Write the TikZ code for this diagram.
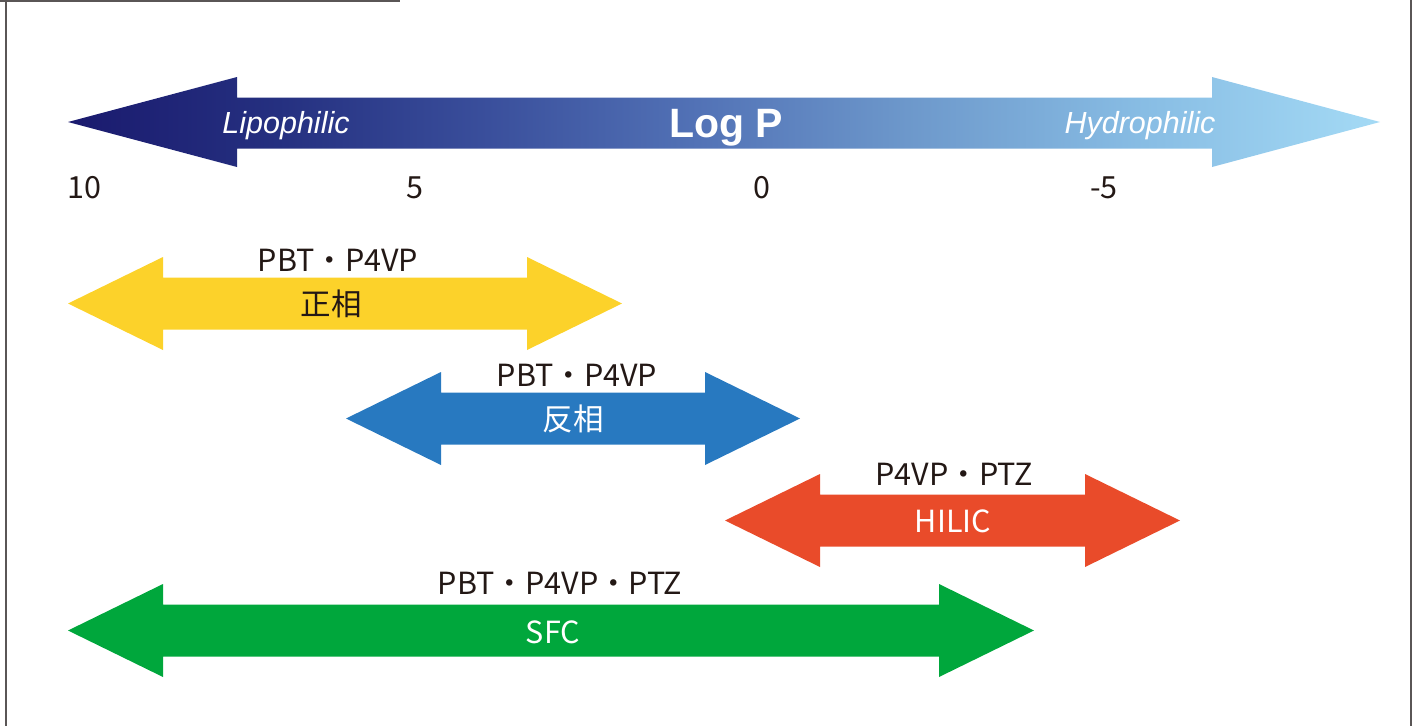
\documentclass[tikz,border=0pt]{standalone}
\usepackage{fontspec}
\newfontfamily\jpfont{Noto Sans CJK JP}
\newfontfamily\arialfont{Liberation Sans}
\definecolor{ink}{HTML}{231815}
\definecolor{frame}{HTML}{5A5656}
\definecolor{ncYellow}{HTML}{FCD22A}
\definecolor{ncBlue}{HTML}{2879C0}
\definecolor{ncRed}{HTML}{E94B2A}
\definecolor{ncGreen}{HTML}{00A73C}
\definecolor{lp0}{HTML}{1A1A6E}
\definecolor{lp1}{HTML}{253080}
\definecolor{lp2}{HTML}{3A4F9C}
\definecolor{lp3}{HTML}{5272B6}
\definecolor{lp4}{HTML}{6D98CB}
\definecolor{lp5}{HTML}{88BDE4}
\definecolor{lp6}{HTML}{A4DAF5}
% horizontal gradient for the Log P axis (path box maps to 25bp..75bp)
\pgfdeclarehorizontalshading{logpshade}{100bp}{%
  color(0bp)=(lp0); color(25bp)=(lp0); color(33bp)=(lp1); color(41bp)=(lp2);
  color(49bp)=(lp3); color(57bp)=(lp4); color(66bp)=(lp5); color(75bp)=(lp6);
  color(100bp)=(lp6)}
\tikzset{
  lbl/.style={font=\jpfont\fontsize{30.5}{30.5}\selectfont, text=ink, anchor=base, inner sep=0pt},
  inlbl/.style={lbl, text=white},
  tick/.style={lbl},
  axislbl/.style={font=\arialfont\itshape\fontsize{30.5}{30.5}\selectfont, text=white, anchor=base, inner sep=0pt},
  axistitle/.style={font=\arialfont\bfseries\fontsize{41}{41}\selectfont, text=white, anchor=base, inner sep=0pt},
  frameline/.style={draw=frame, line width=1.4pt}
}
% double-headed block arrow: #1 colour, #2 left tip x, #3 right tip x, #4 centre y
\newcommand\blockarrow[4]{%
  \fill[#1] (#2,#4) -- ({#2+95},{#4-46.5}) -- ({#2+95},{#4-26}) -- ({#3-95},{#4-26})
    -- ({#3-95},{#4-46.5}) -- (#3,#4) -- ({#3-95},{#4+46.5}) -- ({#3-95},{#4+26})
    -- ({#2+95},{#4+26}) -- ({#2+95},{#4+46.5}) -- cycle;}
\begin{document}
\begin{tikzpicture}[x=1pt,y=-1pt]
\useasboundingbox (0,0) rectangle (1417,726);
% frame
\draw[frameline] (0,1) -- (400,1);
\draw[frameline] (6,0) -- (6,726);
\draw[frameline] (1411,0) -- (1411,726);
% Log P axis
\shade[shading=logpshade] (68,122) -- (237,77) -- (237,97.5) -- (1212,97.5) -- (1212,77)
  -- (1380,122) -- (1212,167) -- (1212,148.5) -- (237,148.5) -- (237,167) -- cycle;
\node[axislbl] (lipo) at (286,133) {Lipophilic};
\node[axistitle] (logp) at (726,137) {Log P};
\node[axislbl] (hydro) at (1140,133) {Hydrophilic};
% scale values
\node[tick] (t10) at (84,198) {10};
\node[tick] (t5) at (415,198) {5};
\node[tick] (t0) at (762,198) {0};
\node[tick] (tm5) at (1104,198) {-5};
% normal phase
\blockarrow{ncYellow}{68}{622}{303.5}
\node[lbl] (np) at (338,271) {PBT・P4VP};
\node[lbl] (npin) at (331,315) {正相};
% reversed phase
\blockarrow{ncBlue}{346}{800}{418.5}
\node[lbl] (rp) at (577,386) {PBT・P4VP};
\node[inlbl] (rpin) at (573,430) {反相};
% HILIC
\blockarrow{ncRed}{725}{1180}{520.5}
\node[lbl] (hl) at (954,485) {P4VP・PTZ};
\node[inlbl] (hlin) at (953,532) {HILIC};
% SFC
\blockarrow{ncGreen}{68}{1034}{630.5}
\node[lbl] (sf) at (560,594) {PBT・P4VP・PTZ};
\node[inlbl] (sfin) at (553,643) {SFC};
\end{tikzpicture}
\end{document}
